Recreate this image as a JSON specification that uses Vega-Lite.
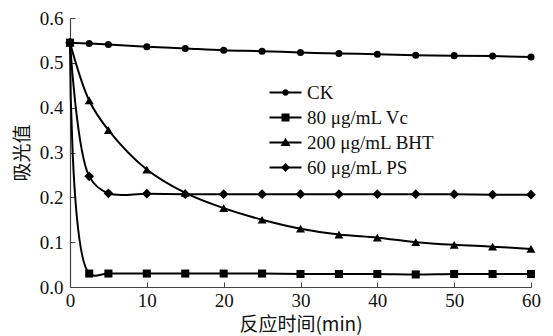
{
  "$schema": "https://vega.github.io/schema/vega-lite/v6.json",
  "width": 461,
  "height": 269,
  "autosize": {"type": "none"},
  "padding": {"left": 70, "top": 18, "right": 22, "bottom": 49},
  "background": "white",
  "config": {
    "view": {"stroke": null},
    "font": "Liberation Serif",
    "axis": {
      "grid": false,
      "domainColor": "#444",
      "tickColor": "#444",
      "domainWidth": 1.2,
      "labelFont": "Liberation Serif",
      "labelFontSize": 19,
      "labelColor": "#111",
      "titleFontSize": 19,
      "titleFontWeight": "normal",
      "titleColor": "#111"
    }
  },
  "data": {
    "values": [
      {"t": 0, "v": 0.545, "s": "CK"},
      {"t": 2.5, "v": 0.543, "s": "CK"},
      {"t": 5, "v": 0.541, "s": "CK"},
      {"t": 10, "v": 0.536, "s": "CK"},
      {"t": 15, "v": 0.532, "s": "CK"},
      {"t": 20, "v": 0.528, "s": "CK"},
      {"t": 25, "v": 0.526, "s": "CK"},
      {"t": 30, "v": 0.523, "s": "CK"},
      {"t": 35, "v": 0.521, "s": "CK"},
      {"t": 40, "v": 0.519, "s": "CK"},
      {"t": 45, "v": 0.517, "s": "CK"},
      {"t": 50, "v": 0.516, "s": "CK"},
      {"t": 55, "v": 0.515, "s": "CK"},
      {"t": 60, "v": 0.513, "s": "CK"},
      {"t": 0, "v": 0.545, "s": "80 μg/mL Vc"},
      {"t": 2.5, "v": 0.030, "s": "80 μg/mL Vc"},
      {"t": 5, "v": 0.030, "s": "80 μg/mL Vc"},
      {"t": 10, "v": 0.030, "s": "80 μg/mL Vc"},
      {"t": 15, "v": 0.030, "s": "80 μg/mL Vc"},
      {"t": 20, "v": 0.030, "s": "80 μg/mL Vc"},
      {"t": 25, "v": 0.030, "s": "80 μg/mL Vc"},
      {"t": 30, "v": 0.029, "s": "80 μg/mL Vc"},
      {"t": 35, "v": 0.029, "s": "80 μg/mL Vc"},
      {"t": 40, "v": 0.029, "s": "80 μg/mL Vc"},
      {"t": 45, "v": 0.028, "s": "80 μg/mL Vc"},
      {"t": 50, "v": 0.029, "s": "80 μg/mL Vc"},
      {"t": 55, "v": 0.029, "s": "80 μg/mL Vc"},
      {"t": 60, "v": 0.029, "s": "80 μg/mL Vc"},
      {"t": 0, "v": 0.545, "s": "200 μg/mL BHT"},
      {"t": 2.5, "v": 0.416, "s": "200 μg/mL BHT"},
      {"t": 5, "v": 0.350, "s": "200 μg/mL BHT"},
      {"t": 10, "v": 0.262, "s": "200 μg/mL BHT"},
      {"t": 15, "v": 0.210, "s": "200 μg/mL BHT"},
      {"t": 20, "v": 0.176, "s": "200 μg/mL BHT"},
      {"t": 25, "v": 0.150, "s": "200 μg/mL BHT"},
      {"t": 30, "v": 0.130, "s": "200 μg/mL BHT"},
      {"t": 35, "v": 0.117, "s": "200 μg/mL BHT"},
      {"t": 40, "v": 0.110, "s": "200 μg/mL BHT"},
      {"t": 45, "v": 0.100, "s": "200 μg/mL BHT"},
      {"t": 50, "v": 0.094, "s": "200 μg/mL BHT"},
      {"t": 55, "v": 0.090, "s": "200 μg/mL BHT"},
      {"t": 60, "v": 0.085, "s": "200 μg/mL BHT"},
      {"t": 0, "v": 0.545, "s": "60 μg/mL PS"},
      {"t": 2.5, "v": 0.247, "s": "60 μg/mL PS"},
      {"t": 5, "v": 0.209, "s": "60 μg/mL PS"},
      {"t": 10, "v": 0.208, "s": "60 μg/mL PS"},
      {"t": 15, "v": 0.207, "s": "60 μg/mL PS"},
      {"t": 20, "v": 0.207, "s": "60 μg/mL PS"},
      {"t": 25, "v": 0.207, "s": "60 μg/mL PS"},
      {"t": 30, "v": 0.207, "s": "60 μg/mL PS"},
      {"t": 35, "v": 0.207, "s": "60 μg/mL PS"},
      {"t": 40, "v": 0.207, "s": "60 μg/mL PS"},
      {"t": 45, "v": 0.207, "s": "60 μg/mL PS"},
      {"t": 50, "v": 0.207, "s": "60 μg/mL PS"},
      {"t": 55, "v": 0.206, "s": "60 μg/mL PS"},
      {"t": 60, "v": 0.206, "s": "60 μg/mL PS"}
    ]
  },
  "encoding": {
    "x": {
      "field": "t", "type": "quantitative",
      "scale": {"domain": [0, 60], "nice": false},
      "axis": {"values": [0, 10, 20, 30, 40, 50, 60], "title": "反应时间(min)", "titleFont": "Noto Sans CJK SC", "tickSize": -5, "labelPadding": 9, "titlePadding": 5, "labelFlush": false}
    },
    "y": {
      "field": "v", "type": "quantitative",
      "scale": {"domain": [0, 0.6], "nice": false},
      "axis": {"values": [0, 0.1, 0.2, 0.3, 0.4, 0.5, 0.6], "format": ".1f", "title": "吸光值", "titleFont": "Noto Sans CJK SC", "tickSize": -5, "labelPadding": 12, "titlePadding": 7}
    }
  },
  "layer": [
    {
      "mark": {"type": "line", "color": "black", "strokeWidth": 2, "interpolate": "catmull-rom"},
      "encoding": {"detail": {"field": "s"}}
    },
    {
      "mark": {"type": "point", "filled": true, "color": "black", "opacity": 1},
      "encoding": {
        "shape": {
          "field": "s", "type": "nominal",
          "scale": {"domain": ["CK", "80 μg/mL Vc", "200 μg/mL BHT", "60 μg/mL PS"], "range": ["circle", "square", "triangle-up", "diamond"]},
          "legend": null
        },
        "size": {
          "field": "s", "type": "nominal",
          "scale": {"domain": ["CK", "80 μg/mL Vc", "200 μg/mL BHT", "60 μg/mL PS"], "range": [50, 95, 80, 75]},
          "legend": null
        }
      }
    },
    {
      "mark": {"type": "point", "filled": false, "color": "black", "strokeWidth": 2, "opacity": 0},
      "encoding": {
        "shape": {
          "field": "s", "type": "nominal",
          "scale": {
            "domain": ["CK", "80 μg/mL Vc", "200 μg/mL BHT", "60 μg/mL PS"],
            "range": ["M-2,0H2", "M-2,0H2", "M-2,0H2", "M-2,0H2"]
          },
          "legend": {
            "title": null,
            "orient": "none",
            "legendX": 206,
            "legendY": 65,
            "symbolSize": 256,
            "symbolOpacity": 1,
            "symbolStrokeWidth": 2,
            "labelFont": "Liberation Serif",
            "labelFontSize": 19,
            "labelColor": "transparent",
            "labelOpacity": 0,
            "labelOffset": 12,
            "rowPadding": 5
          }
        }
      }
    },
    {
      "mark": {"type": "point", "fill": "black", "stroke": "black", "strokeWidth": 2, "opacity": 0},
      "encoding": {
        "shape": {
          "field": "s", "type": "nominal",
          "scale": {
            "domain": ["CK", "80 μg/mL Vc", "200 μg/mL BHT", "60 μg/mL PS"],
            "range": [
              "M0.4,0A0.4,0.4,0,1,1,-0.4,0A0.4,0.4,0,1,1,0.4,0Z",
              "M-0.5,-0.5H0.5V0.5H-0.5Z",
              "M0,-0.6L0.62,0.45H-0.62Z",
              "M0,-0.55L0.55,0L0,0.55L-0.55,0Z"
            ]
          },
          "legend": {
            "title": null,
            "orient": "none",
            "legendX": 206,
            "legendY": 65,
            "symbolSize": 256,
            "symbolOpacity": 1,
            "symbolStrokeWidth": 0,
            "symbolFillColor": "black",
            "labelFont": "Liberation Serif",
            "labelFontSize": 19,
            "labelColor": "#111",
            "labelOffset": 12,
            "rowPadding": 5
          }
        }
      }
    }
  ],
  "resolve": {"scale": {"shape": "independent", "size": "independent"}}
}
